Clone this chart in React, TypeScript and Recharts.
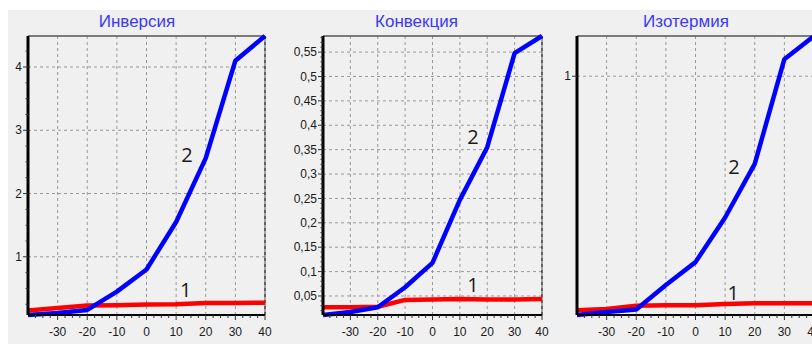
import React from "react";
import { LineChart, Line, XAxis, YAxis, ReferenceLine, ReferenceDot } from "recharts";

// Air temperature, °C
const temps = [-40, -30, -20, -10, 0, 10, 20, 30, 40];

// Инверсия
const inversion1 = [0.15, 0.19, 0.23, 0.235, 0.245, 0.25, 0.27, 0.27, 0.275];
const inversion2 = [0.08, 0.11, 0.16, 0.45, 0.8, 1.55, 2.56, 4.1, 4.49];
// Конвекция
const convection1 = [0.027, 0.027, 0.028, 0.042, 0.043, 0.044, 0.043, 0.043, 0.044];
const convection2 = [0.011, 0.017, 0.027, 0.068, 0.118, 0.247, 0.355, 0.548, 0.583];
// Изотермия
const isotherm1 = [0.04, 0.045, 0.058, 0.06, 0.06, 0.065, 0.068, 0.068, 0.068];
const isotherm2 = [0.02, 0.032, 0.043, 0.143, 0.237, 0.42, 0.64, 1.07, 1.165];

const titles = ["Инверсия", "Конвекция", "Изотермия"];
const xMajorTicks = [-30, -20, -10, 0, 10, 20, 30, 40];
const yMajorTicks1 = [1, 2, 3, 4];
const yMajorTicks2 = [0.05, 0.1, 0.15, 0.2, 0.25, 0.3, 0.35, 0.4, 0.45, 0.5, 0.55];
const yMajorTicks3 = [1];

// curve labels: [x, y] in data units
const labels1 = { two: [13.7, 2.61], one: [13.2, 0.48] };
const labels2 = { two: [14.8, 0.376], one: [14.8, 0.072] };
const labels3 = { two: [13, 0.627], one: [12.7, 0.11] };

const range = (a: number, b: number, step: number) => {
  const out: number[] = [];
  const n = Math.round((b - a) / step);
  for (let i = 0; i <= n; i++) out.push(Math.round((a + i * step) * 10000) / 10000);
  return out;
};

const xMinorTicks = range(-37.5, 40, 2.5);

const FONT = "'Liberation Sans', Arial, sans-serif";
const near = (arr: number[], v: number) => arr.some((m) => Math.abs(m - v) < 1e-7);

const YTick = (props: any) => {
  const { x, y, payload, majors, fmt } = props;
  const v = payload.value;
  const major = near(majors, v);
  return (
    <g>
      <line x1={x - (major ? 5 : 2.5)} x2={x} y1={y} y2={y} stroke="#333" strokeWidth={1} />
      {major && (
        <text x={x - 6} y={y} dy="0.35em" textAnchor="end" fontSize={12} fontFamily={FONT} fill="#1a1a1a">
          {fmt(v)}
        </text>
      )}
    </g>
  );
};

const XTick = (props: any) => {
  const { x, y, payload } = props;
  const v = payload.value;
  const major = near(xMajorTicks, v);
  return (
    <g>
      <line x1={x} x2={x} y1={y} y2={y + (major ? 5 : 3)} stroke="#333" strokeWidth={1} />
      {major && (
        <text x={x} y={y + 21} textAnchor="middle" fontSize={12} fontFamily={FONT} fill="#1a1a1a">
          {String(v)}
        </text>
      )}
    </g>
  );
};

type PanelProps = {
  left: number;
  plotWidth: number;
  red: number[];
  blue: number[];
  yMajors: number[];
  yMinors: number[];
  fmt: (v: number) => string;
  lab: { two: number[]; one: number[] };
};

const Panel = ({ left, plotWidth, red, blue, yMajors, yMinors, fmt, lab }: PanelProps) => {
  const data = temps.map((t, i) => ({ t, red: red[i], blue: blue[i] }));
  const yMin = Math.min(...blue, ...red);
  const yMax = Math.max(...blue, ...red);
  const yTicks = [...yMinors.filter((v) => v > yMin && v < yMax && !near(yMajors, v)), ...yMajors].sort((a, b) => a - b);
  const W = plotWidth + 40 + 12;
  const labelStyle = { fill: "#1a1a1a", fontSize: 20, fontFamily: "'Open Sans', sans-serif" };
  return (
    <div style={{ position: "absolute", left: left - 40, top: 0 }}>
      <LineChart width={W} height={344} data={data} margin={{ top: 36, right: 12, bottom: 4, left: 0 }}>
        <XAxis
          dataKey="t"
          type="number"
          domain={[-40, 40]}
          ticks={xMinorTicks}
          interval={0}
          tickSize={0}
          tickMargin={0}
          height={25}
          axisLine={{ stroke: "#000", strokeWidth: 2 }}
          tickLine={false}
          tick={(p: any) => <XTick {...p} />}
        />
        <YAxis
          type="number"
          domain={[yMin, yMax]}
          ticks={yTicks}
          interval={0}
          tickSize={0}
          tickMargin={0}
          width={40}
          axisLine={{ stroke: "#000", strokeWidth: 3 }}
          tickLine={false}
          tick={(p: any) => <YTick {...p} majors={yMajors} fmt={fmt} />}
        />
        {xMajorTicks.filter((v) => v < 40).map((v) => (
          <ReferenceLine key={"gx" + v} x={v} stroke="#999" strokeDasharray="3 3" />
        ))}
        {yMajors.map((v) => (
          <ReferenceLine key={"gy" + v} y={v} stroke="#999" strokeDasharray="3 3" />
        ))}
        <ReferenceLine y={yMax} stroke="#555" strokeWidth={1.5} />
        <ReferenceLine x={40} stroke="#555" strokeWidth={1} />
        <ReferenceLine x={40} stroke="#222" strokeDasharray="3 3" />
        <Line
          type="linear"
          dataKey="red"
          stroke="#ff0000"
          strokeWidth={4.5}
          dot={false}
          isAnimationActive={false}
          strokeLinejoin="round"
        />
        <Line
          type="linear"
          dataKey="blue"
          stroke="#0000ff"
          strokeWidth={4.5}
          dot={false}
          isAnimationActive={false}
          strokeLinejoin="round"
        />
        <ReferenceDot
          x={lab.two[0]}
          y={lab.two[1]}
          r={0}
          fill="none"
          stroke="none"
          label={{ value: "2", position: "center", ...labelStyle }}
        />
        <ReferenceDot
          x={lab.one[0]}
          y={lab.one[1]}
          r={0}
          fill="none"
          stroke="none"
          label={{ value: "1", position: "center", ...labelStyle }}
        />
      </LineChart>
    </div>
  );
};

const Title = ({ text, cx }: { text: string; cx: number }) => (
  <div
    style={{
      position: "absolute",
      left: cx - 100,
      width: 200,
      top: 12.5,
      textAlign: "center",
      fontFamily: FONT,
      fontSize: 17,
      lineHeight: "17px",
      color: "#3a3af5",
    }}
  >
    {text}
  </div>
);

const fmtInt = (v: number) => String(v);
const fmtComma = (v: number) => String(Math.round(v * 100) / 100).replace(".", ",");

export default function App() {
  return (
    <div
      style={{
        position: "fixed",
        left: 0,
        top: 0,
        width: 812,
        height: 344,
        overflow: "hidden",
        background: "#ffffff",
      }}
    >
      <div style={{ position: "absolute", left: 8, top: 10, right: 0, bottom: 0, background: "#f0f0f0" }} />
      <Title text={titles[0]} cx={137} />
      <Title text={titles[1]} cx={416.5} />
      <Title text={titles[2]} cx={686} />
      <Panel
        left={28}
        plotWidth={237}
        red={inversion1}
        blue={inversion2}
        yMajors={yMajorTicks1}
        yMinors={range(0.25, 4.25, 0.25)}
        fmt={fmtInt}
        lab={labels1}
      />
      <Panel
        left={323}
        plotWidth={219}
        red={convection1}
        blue={convection2}
        yMajors={yMajorTicks2}
        yMinors={range(0.02, 0.58, 0.01)}
        fmt={fmtComma}
        lab={labels2}
      />
      <Panel
        left={577}
        plotWidth={237}
        red={isotherm1}
        blue={isotherm2}
        yMajors={yMajorTicks3}
        yMinors={[]}
        fmt={fmtInt}
        lab={labels3}
      />
    </div>
  );
}
